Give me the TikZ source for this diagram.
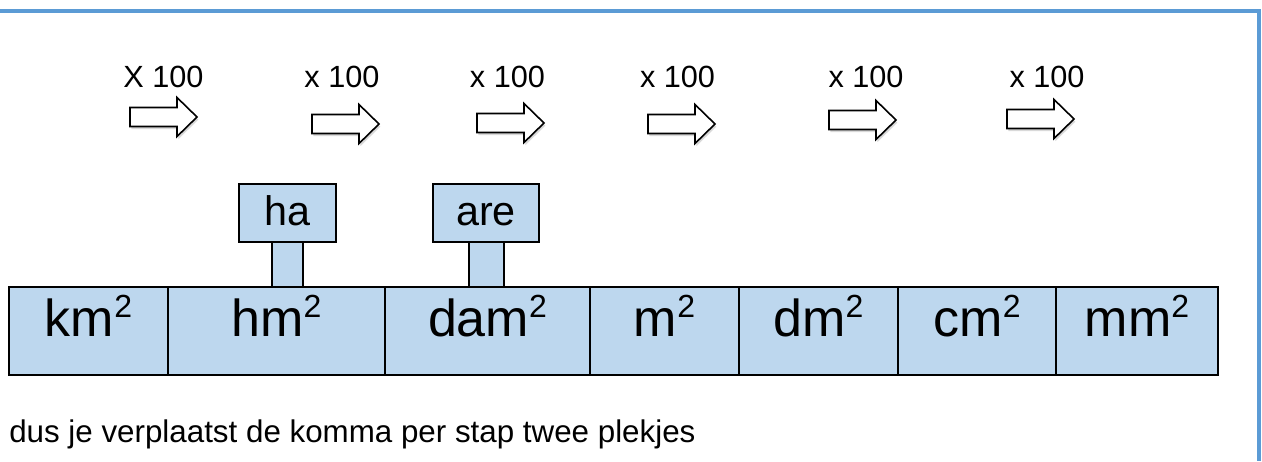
\documentclass[tikz,border=0pt]{standalone}
\usepackage{fontspec}
\setmainfont{Liberation Sans}
\usetikzlibrary{positioning,shadows}
\definecolor{cellblue}{RGB}{189,215,238}
\definecolor{frameblue}{RGB}{91,155,213}
\newcommand{\sqr}{\raisebox{14pt}{\fontsize{24}{24}\selectfont 2}}
\begin{document}
\begin{tikzpicture}[x=0.75pt, y=-0.75pt,
	cell/.style={draw, line width=1.5pt, fill=cellblue, inner sep=0pt, outer sep=0pt, minimum height=66pt, text height=36.75pt, text depth=29.25pt, font=\fontsize{39}{39}\selectfont},
	tag/.style={cell, minimum height=43.5pt, text height=30.75pt, text depth=12.75pt, font=\fontsize{31}{31}\selectfont},
	stem/.style={draw, line width=1.5pt, fill=cellblue, inner sep=0pt, outer sep=0pt, minimum height=33.75pt},
	factor/.style={anchor=base, inner sep=0pt, font=\fontsize{23}{23}\selectfont},
	bigarrow/.pic={\draw[line width=1.2pt, fill=white, drop shadow={shadow xshift=1pt, shadow yshift=-2pt, opacity=0.3}] (0,-9.5) -- (47,-9.5) -- (47,-19.5) -- (67,0) -- (47,19.5) -- (47,9.5) -- (0,9.5) -- cycle;}]
	\useasboundingbox (0,0) rectangle (1262,461);
	\draw[frameblue, line width=3pt] (0,10.5) -- (1258.5,10.5) -- (1258.5,461);
	% factors
	\node[factor] (f1) at (163.5,87) {X 100};
	\node[factor] (f2) at (342,87) {x 100};
	\node[factor] (f3) at (507.5,87) {x 100};
	\node[factor] (f4) at (677.5,87) {x 100};
	\node[factor] (f5) at (866,87) {x 100};
	\node[factor] (f6) at (1047,87) {x 100};
	\pic (a1) at (130,117) {bigarrow};
	\pic (a2) at (312,124) {bigarrow};
	\pic (a3) at (477,123) {bigarrow};
	\pic (a4) at (648,124) {bigarrow};
	\pic (a5) at (829,120) {bigarrow};
	\pic (a6) at (1007,119) {bigarrow};
	% units
	\node[cell, minimum width=119.25pt, anchor=north west] (km) at (9,287) {km\sqr};
	\node[cell, minimum width=162.75pt, right=0pt of km] (hm) {hm\sqr};
	\node[cell, minimum width=153.75pt, right=0pt of hm] (dam) {dam\sqr};
	\node[cell, minimum width=111.75pt, right=0pt of dam] (m) {m\sqr};
	\node[cell, minimum width=119.25pt, right=0pt of m] (dm) {dm\sqr};
	\node[cell, minimum width=118.5pt, right=0pt of dm] (cm) {cm\sqr};
	\node[cell, minimum width=121.5pt, right=0pt of cm] (mm) {mm\sqr};
	% ha and are
	\node[tag, minimum width=72.75pt] (ha) at (287.5,213) {ha};
	\node[stem, minimum width=23.25pt, below=0pt of ha] (hastem) {};
	\node[tag, minimum width=79.5pt] (are) at (486,213) {are};
	\node[stem, minimum width=26.25pt, below=0pt of are] (arestem) {};
	\node[anchor=base west, inner sep=0pt, font=\fontsize{23.5}{23.5}\selectfont] (note) at (9,442) {dus je verplaatst de komma per stap twee plekjes};
\end{tikzpicture}
\end{document}
